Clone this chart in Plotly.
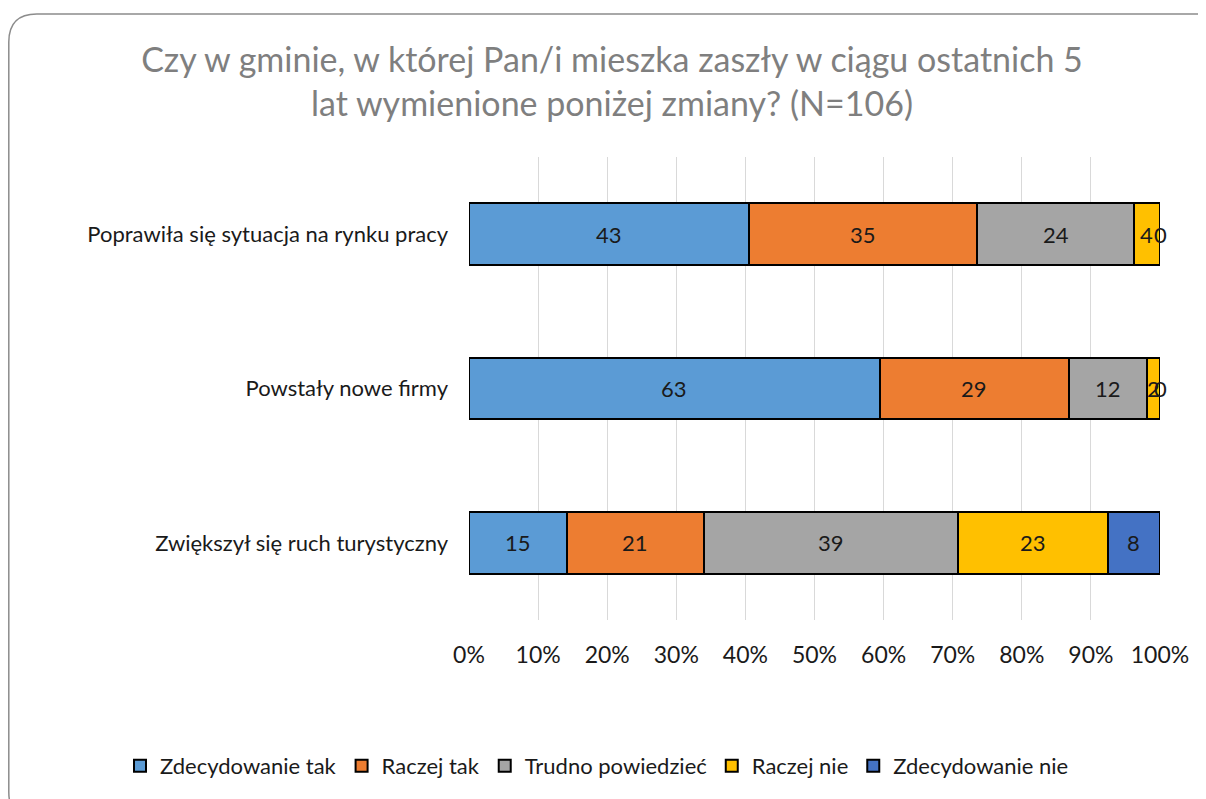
import plotly.graph_objects as go

categories = ["Poprawiła się sytuacja na rynku pracy", "Powstały nowe firmy", "Zwiększył się ruch turystyczny"]
series_names = ["Zdecydowanie tak", "Raczej tak", "Trudno powiedzieć", "Raczej nie", "Zdecydowanie nie"]
zdecydowanie_tak = [43, 63, 15]
raczej_tak = [35, 29, 21]
trudno_powiedziec = [24, 12, 39]
raczej_nie = [4, 2, 23]
zdecydowanie_nie = [0, 0, 8]
tick_vals = [0, 10, 20, 30, 40, 50, 60, 70, 80, 90, 100]
tick_labels = ["0%", "10%", "20%", "30%", "40%", "50%", "60%", "70%", "80%", "90%", "100%"]

series = [zdecydowanie_tak, raczej_tak, trudno_powiedziec, raczej_nie, zdecydowanie_nie]
colors = ["#5B9BD5", "#ED7D31", "#A5A5A5", "#FFC000", "#4472C4"]

FONT = "Lato"
fig = go.Figure()
for name, vals, col in zip(series_names, series, colors):
    fig.add_trace(go.Bar(
        y=categories, x=vals, name=name, orientation="h",
        marker=dict(color=col, line=dict(color="black", width=2)),
        textposition="none", hoverinfo="x+y+name",
    ))

# data labels at the middle of each normalised segment
annotations = []
for i, cat in enumerate(categories):
    total = sum(s[i] for s in series)
    cum = 0
    for s in series:
        v = s[i]
        mid = (cum + v / 2) / total * 100
        cum += v
        annotations.append(dict(x=mid, y=cat, xref="x", yref="y", text=str(v),
                                showarrow=False, font=dict(family=FONT, size=22, color="#1a1a1a")))

W, H = 1198, 791
L, R, T, B = 461, 1152, 149, 612
PW, PH = R - L, B - T
def px(x):
    return (x - L) / PW
def py(y):
    return 1 - (y - T) / PH

x0, x1, y0, y1 = px(0.8), px(1215), py(6), py(812)
rx, ry = 28 / PW, 28 / PH
path = (f"M {x0+rx},{y0} L {x1-rx},{y0} Q {x1},{y0} {x1},{y0-ry} "
        f"L {x1},{y1+ry} Q {x1},{y1} {x1-rx},{y1} L {x0+rx},{y1} Q {x0},{y1} {x0},{y1+ry} "
        f"L {x0},{y0-ry} Q {x0},{y0} {x0+rx},{y0} Z")

fig.update_layout(
    width=W, height=H,
    barmode="stack", barnorm="percent", bargap=0.6,
    paper_bgcolor="white", plot_bgcolor="white",
    margin=dict(l=L, r=W - R, t=T, b=H - B),
    title=dict(text="Czy w gminie, w której Pan/i mieszka zaszły w ciągu ostatnich 5<br>lat wymienione poniżej zmiany? (N=106)",
               x=604 / W, xanchor="center", y=1 - 64 / H, yanchor="middle", yref="container",
               font=dict(family=FONT, size=34, color="#7f7f7f")),
    xaxis=dict(range=[0, 100], tickvals=tick_vals, ticktext=tick_labels,
               showgrid=True, gridcolor="#d9d9d9", gridwidth=1, zeroline=False,
               showline=False, ticks="", ticklabelstandoff=19,
               tickfont=dict(family=FONT, size=23, color="#1a1a1a"), fixedrange=True),
    yaxis=dict(categoryorder="array", categoryarray=categories, autorange="reversed",
               showgrid=False, showline=False, ticks="", ticklabelstandoff=20,
               tickfont=dict(family=FONT, size=22, color="#1a1a1a")),
    legend=dict(orientation="h", xref="paper", x=px(112), xanchor="left",
                yref="paper", y=py(758), yanchor="middle",
                font=dict(family=FONT, size=22, color="#1a1a1a"), traceorder="normal",
                itemwidth=30, itemclick=False),
    annotations=annotations,
    shapes=[dict(type="path", path=path, xref="paper", yref="paper",
                 line=dict(color="#8c8c8c", width=1.5), fillcolor="rgba(0,0,0,0)", layer="below")],
)

fig.write_html("out.html")
